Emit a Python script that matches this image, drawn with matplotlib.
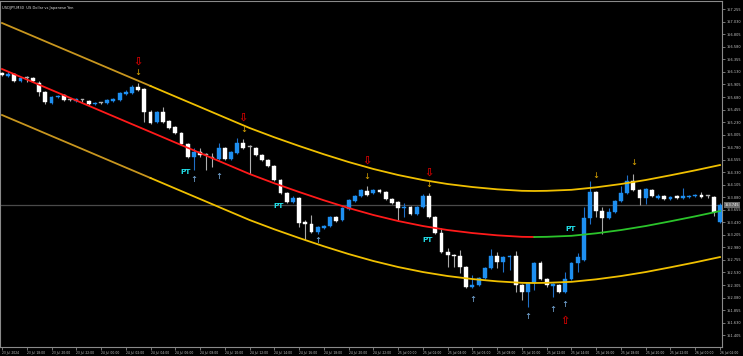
import matplotlib
matplotlib.use("Agg")
import matplotlib.pyplot as plt
import numpy as np

# ---------------- data (USDJPY, M30) ----------------
time_labels = ["23 Jul 2024", "23 Jul 18:00", "23 Jul 20:00", "23 Jul 22:00",
               "24 Jul 00:00", "24 Jul 02:00", "24 Jul 04:00", "24 Jul 06:00",
               "24 Jul 08:00", "24 Jul 10:00", "24 Jul 12:00", "24 Jul 14:00",
               "24 Jul 16:00", "24 Jul 18:00", "24 Jul 20:00", "24 Jul 22:00",
               "25 Jul 00:00", "25 Jul 02:00", "25 Jul 04:00", "25 Jul 06:00",
               "25 Jul 08:00", "25 Jul 10:00", "25 Jul 12:00", "25 Jul 14:00",
               "25 Jul 16:00", "25 Jul 18:00", "25 Jul 20:00", "25 Jul 22:00",
               "26 Jul 00:00", "26 Jul 02:00"]

opens = [156.111,156.057,156.093,155.968,156.021,156.021,155.932,155.770,155.573,155.680,
155.716,155.627,155.609,155.627,155.609,155.555,155.573,155.573,155.609,155.627,
155.734,155.752,155.860,155.824,155.411,155.231,155.411,155.249,155.142,155.034,
154.837,154.603,154.693,154.639,154.585,154.567,154.765,154.567,154.675,154.854,
154.783,154.765,154.639,154.549,154.442,154.190,153.957,153.795,153.867,153.436,
153.400,153.257,153.328,153.364,153.526,153.472,153.669,153.813,153.903,153.993,
153.957,154.011,153.975,153.849,153.795,153.687,153.705,153.580,153.705,153.903,
153.526,153.239,152.897,152.843,152.825,152.628,152.269,152.305,152.431,152.610,
152.825,152.718,152.807,152.825,152.305,152.179,152.341,152.700,152.413,152.287,
152.305,152.179,152.413,152.700,152.754,153.508,153.975,153.633,153.508,153.616,
153.813,153.957,154.172,154.011,153.867,154.011,153.867,153.903,153.849,153.903,
153.867,153.885,153.903,153.921,153.903,153.885,153.436]

highs = [156.129,156.147,156.111,156.039,156.057,156.039,155.968,155.788,155.698,155.716,
155.734,155.645,155.662,155.645,155.627,155.591,155.591,155.645,155.662,155.770,
155.806,155.896,155.932,155.842,155.447,155.429,155.501,155.267,155.160,155.052,
154.854,154.765,154.765,154.675,154.675,154.854,154.783,154.711,154.944,154.926,
154.819,154.783,154.657,154.567,154.459,154.208,153.975,153.903,153.885,153.472,
153.562,153.364,153.382,153.544,153.544,153.705,153.849,153.921,154.029,154.082,
154.029,154.029,153.993,153.867,153.813,153.777,153.723,153.723,153.939,153.957,
153.544,153.328,152.969,152.861,152.933,152.646,152.484,152.449,152.628,152.951,
152.897,152.825,152.843,152.915,152.323,152.359,152.718,152.736,152.431,152.341,
152.323,152.538,152.718,152.879,153.705,154.172,153.993,153.705,153.687,153.831,
154.082,154.280,154.298,154.029,154.047,154.029,153.939,153.921,153.903,153.921,
154.047,153.921,153.939,153.975,153.921,153.903,153.777]

lows = [156.057,156.039,155.950,155.950,155.950,155.950,155.698,155.555,155.555,155.662,
155.609,155.609,155.591,155.591,155.537,155.537,155.555,155.555,155.591,155.609,
155.716,155.734,155.788,155.231,155.196,155.213,155.213,155.106,155.016,154.819,
154.585,154.370,154.603,154.370,154.424,154.549,154.549,154.549,154.657,154.747,
154.298,154.621,154.531,154.424,154.172,153.939,153.777,153.777,153.346,153.113,
153.239,153.221,153.310,153.346,153.436,153.454,153.651,153.795,153.885,153.903,
153.939,153.957,153.831,153.759,153.472,153.526,153.562,153.562,153.687,153.508,
153.221,152.879,152.628,152.628,152.520,152.251,152.251,152.287,152.413,152.592,
152.610,152.538,152.574,152.179,152.036,151.910,152.215,152.395,152.269,152.089,
152.161,152.161,152.395,152.538,152.736,153.400,153.526,153.221,153.490,153.598,
153.795,153.939,153.993,153.741,153.759,153.885,153.849,153.831,153.831,153.849,
153.849,153.867,153.885,153.867,153.867,153.544,153.418]

closes = [156.075,156.093,155.968,156.021,156.021,155.968,155.770,155.591,155.680,155.698,
155.627,155.627,155.645,155.627,155.555,155.573,155.573,155.627,155.645,155.752,
155.770,155.860,155.806,155.411,155.213,155.411,155.231,155.124,155.034,154.837,
154.603,154.693,154.639,154.639,154.585,154.765,154.567,154.693,154.854,154.765,
154.783,154.639,154.549,154.442,154.190,153.957,153.795,153.867,153.418,153.400,
153.257,153.346,153.364,153.526,153.454,153.687,153.831,153.903,154.011,153.921,
154.011,153.975,153.849,153.777,153.687,153.705,153.580,153.705,153.903,153.526,
153.239,152.897,152.843,152.833,152.628,152.269,152.305,152.431,152.610,152.825,
152.718,152.807,152.825,152.305,152.179,152.341,152.700,152.413,152.305,152.323,
152.179,152.413,152.700,152.807,153.508,153.975,153.633,153.508,153.616,153.813,
153.957,154.172,154.011,153.867,154.029,153.903,153.903,153.849,153.885,153.867,
153.903,153.903,153.921,153.885,153.903,153.616,153.745]

# regression channel (read at these bar indices)
chan_bars = [0, 4, 8, 12, 16, 20, 24, 28, 32, 36, 40, 44, 48, 52, 56, 60, 64, 68,
             72, 76, 80, 84, 86, 88, 92, 96, 100, 104, 108, 112, 116]
chan_mid = [156.183, 155.995, 155.806, 155.618, 155.429, 155.240, 155.052, 154.863,
            154.675, 154.486, 154.298, 154.131, 153.975, 153.826, 153.687, 153.562,
            153.454, 153.364, 153.292, 153.238, 153.197, 153.170, 153.167, 153.170,
            153.188, 153.233, 153.292, 153.364, 153.449, 153.538, 153.633]
chan_upper = [157.009, 156.821, 156.632, 156.444, 156.255, 156.066, 155.878, 155.689,
              155.501, 155.312, 155.124, 154.957, 154.801, 154.652, 154.513, 154.388,
              154.280, 154.190, 154.118, 154.064, 154.023, 153.996, 153.993, 153.996,
              154.014, 154.059, 154.118, 154.190, 154.275, 154.364, 154.459]
chan_lower = [155.357, 155.169, 154.980, 154.792, 154.603, 154.414, 154.226, 154.037,
              153.849, 153.660, 153.472, 153.305, 153.149, 153.000, 152.861, 152.736,
              152.628, 152.538, 152.466, 152.412, 152.371, 152.344, 152.341, 152.344,
              152.362, 152.407, 152.466, 152.538, 152.623, 152.712, 152.807]

# signals
sell_big_bars = [22, 39, 59, 69]
sell_big_prices = [156.309, 155.303, 154.540, 154.315]
sell_small_bars = [22, 39, 59, 69, 96, 102]
sell_small_prices = [156.129, 155.088, 154.253, 154.115, 154.271, 154.505]
buy_small_bars = [31, 35, 51, 76, 85, 89, 91]
buy_small_prices = [154.208, 154.253, 153.113, 152.053, 151.739, 151.874, 151.964]
buy_big_bars = [91]
buy_big_prices = [151.658]
pt_bars = [29.7, 44.7, 68.8, 91.9]
pt_prices = [154.334, 153.723, 153.113, 153.310]

bid_price = 153.745
y_tick_values = [157.255, 157.030, 156.805, 156.580, 156.355, 156.130, 155.905, 155.680,
                 155.455, 155.230, 155.005, 154.780, 154.555, 154.330, 154.105, 153.880,
                 153.655, 153.430, 153.205, 152.980, 152.755, 152.530, 152.305, 152.080,
                 151.855, 151.630, 151.405]

# ---------------- figure ----------------
W, H = 743, 356
fig = plt.figure(figsize=(W / 100, H / 100), dpi=100, facecolor="black")
ax = fig.add_axes([0 / W, 9 / H, 722 / W, 346 / H], facecolor="black")

n = len(opens)
x = np.arange(n)
o = np.array(opens); h = np.array(highs); l = np.array(lows); c = np.array(closes)

bull_body = "#1E8FF0"
bull_wick = "#1F6FC8"
bear_body = "#FFFFFF"
bear_wick = "#A8A8A8"

# bid line
ax.axhline(bid_price, color="#4A4A4A", lw=0.9, zorder=1)

for i in range(n):
    diff = c[i] - o[i]
    if abs(diff) < 0.004:
        wc, bc = "#B0B0B0", "#B0B0B0"
    elif diff > 0:
        wc, bc = bull_wick, bull_body
    else:
        wc, bc = bear_wick, bear_body
    ax.vlines(x[i], l[i], h[i], color=wc, lw=0.8, zorder=2)
    bottom = min(o[i], c[i])
    height = max(abs(diff), 0.014)
    ax.bar(x[i], height, bottom=bottom, width=0.62, color=bc, edgecolor=bc,
           linewidth=0.3, zorder=3)

# channel lines
cb = np.array(chan_bars)
split = chan_bars.index(24)  # older section is drawn darker
for band in (chan_upper, chan_lower):
    ax.plot(cb[:split + 1], band[:split + 1], color="#C8961E", lw=1.3, zorder=4,
            solid_joinstyle="round")
    ax.plot(cb[split:], band[split:], color="#F0C000", lw=1.3, zorder=4,
            solid_joinstyle="round")
turn = chan_bars.index(86)
ax.plot(cb[:turn + 1], chan_mid[:turn + 1], color="#FF1A1A", lw=1.3, zorder=4,
        solid_joinstyle="round")
ax.plot(cb[turn:], chan_mid[turn:], color="#2BC42B", lw=1.3, zorder=4,
        solid_joinstyle="round")

# signals
for b, p in zip(sell_big_bars, sell_big_prices):
    ax.text(b, p, "\u21e9", color="#D00000", fontsize=8, fontweight="bold",
            ha="center", va="center", zorder=6)
for b, p in zip(sell_small_bars, sell_small_prices):
    ax.text(b, p, "\u2193", color="#E0A800", fontsize=6, ha="center", va="center", zorder=6)
for b, p in zip(buy_small_bars, buy_small_prices):
    ax.text(b, p, "\u2191", color="#80B8EC", fontsize=6, ha="center", va="center", zorder=6)
for b, p in zip(buy_big_bars, buy_big_prices):
    ax.text(b, p, "\u21e7", color="#D00000", fontsize=8, fontweight="bold",
            ha="center", va="center", zorder=6)
for b, p in zip(pt_bars, pt_prices):
    ax.text(b, p, "PT", color="#22E0EA", fontsize=5.3, fontweight="bold",
            ha="center", va="center", zorder=6)

# axes limits
ax.set_xlim(-0.323, 116.323)
ax.set_ylim(151.192, 157.404)

# frame
for s in ax.spines.values():
    s.set_color("#8A8A8A")
    s.set_linewidth(0.8)

# y axis on the right
ax.yaxis.tick_right()
ax.set_yticks(y_tick_values)
ax.set_yticklabels([f"{v:.3f}" for v in y_tick_values])
ax.tick_params(axis="y", colors="#8A8A8A", labelcolor="#C8C8C8", labelsize=2.5,
               length=2, width=0.6, pad=1.2, direction="out")

# x axis
xt = list(range(0, n, 4))
ax.set_xticks(xt)
ax.set_xticklabels(time_labels, ha="left")
ax.tick_params(axis="x", colors="#8A8A8A", labelcolor="#C8C8C8", labelsize=2.2,
               length=2, width=0.6, pad=0.6, direction="out")

# bid price box
ax.text(1.0035, bid_price, f"{bid_price:.3f}", transform=ax.get_yaxis_transform(),
        fontsize=2.5, color="white", ha="left", va="center", zorder=10,
        bbox=dict(boxstyle="square,pad=0.25", fc="#6A6A6A", ec="none"), clip_on=False)

# title
ax.text(0.003, 0.985, "USDJPY,M30  US Dollar vs Japanese Yen", transform=ax.transAxes,
        fontsize=2.6, color="#E0E0E0", ha="left", va="top", zorder=10)

fig.savefig("out.png", dpi=100, facecolor="black")
